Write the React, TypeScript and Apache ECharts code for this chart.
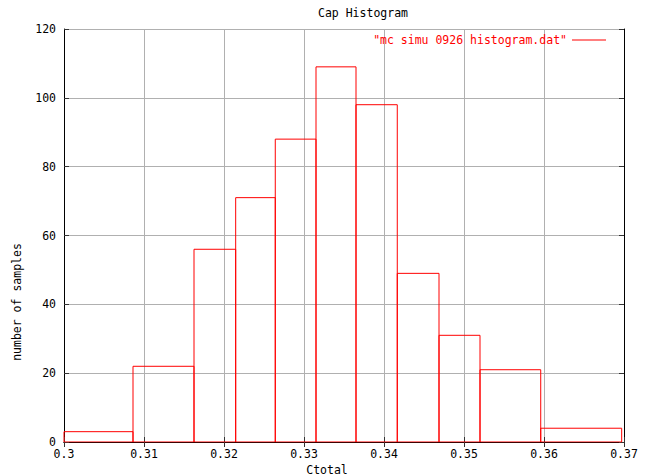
import React, { useEffect, useRef } from "react";
import * as echarts from "echarts";

const binEdges = [0.3, 0.308625, 0.31625, 0.32146, 0.32641, 0.3315, 0.3365, 0.34166, 0.346875, 0.352, 0.35959, 0.36971];
const counts = [3, 22, 56, 71, 88, 109, 98, 49, 31, 21, 4];
const seriesName = '"mc simu 0926 histogram.dat"';
const chartTitle = "Cap Histogram";
const xLabel = "Ctotal";
const yLabel = "number of samples";
const xMin = 0.3, xMax = 0.37, xStep = 0.01;
const yMin = 0, yMax = 120, yStep = 20;

const FONT = "DejaVu Sans Mono";
const RED = "#ff0000";

export default function App() {
  const ref = useRef<HTMLDivElement>(null);
  useEffect(() => {
    if (!ref.current) return;
    const chart = echarts.init(ref.current, undefined, { renderer: "svg" });
    // outline path through every box: up, across, down, for each bin, then back along the base
    const outline: number[][] = [];
    counts.forEach((c, i) => {
      outline.push([binEdges[i], 0]);
      outline.push([binEdges[i], c]);
      outline.push([binEdges[i + 1], c]);
      outline.push([binEdges[i + 1], 0]);
    });
    outline.push([binEdges[0], 0]);
    const axisCommon = {
      type: "value" as const,
      axisLine: { show: true, lineStyle: { color: "#000", width: 1 } },
      axisTick: { show: true, inside: true, length: 5, lineStyle: { color: "#333" } },
    };
    chart.setOption({
      animation: false,
      backgroundColor: "#fff",
      title: {
        text: chartTitle,
        left: 313,
        top: 2,
        textStyle: { fontFamily: FONT, fontSize: 11.5, fontWeight: "normal", color: "#000" },
      },
      legend: {
        data: [{ name: seriesName, icon: "rect", itemStyle: { color: RED } }],
        right: 40,
        top: 29,
        align: "right",
        itemWidth: 34,
        itemHeight: 1,
        textStyle: { fontFamily: FONT, fontSize: 11.5, color: RED },
      },
      grid: { left: 64, right: 27, top: 29, bottom: 34 },
      xAxis: [
        {
          ...axisCommon,
          min: xMin,
          max: xMax,
          interval: xStep,
          position: "bottom",
          axisLabel: {
            margin: 6,
            fontFamily: FONT,
            fontSize: 11.5,
            color: "#000",
            formatter: (v: number) => String(parseFloat(v.toFixed(2))),
          },
          splitLine: { show: true, lineStyle: { color: "#b0b0b0", width: 1 } },
        },
        {
          ...axisCommon,
          min: xMin,
          max: xMax,
          interval: xStep,
          position: "top",
          axisLabel: { show: false },
          splitLine: { show: false },
        },
      ],
      yAxis: [
        {
          ...axisCommon,
          min: yMin,
          max: yMax,
          interval: yStep,
          position: "left",
          axisLabel: { margin: 8, fontFamily: FONT, fontSize: 11.5, color: "#000" },
          splitLine: { show: true, lineStyle: { color: "#b0b0b0", width: 1 } },
        },
        {
          ...axisCommon,
          min: yMin,
          max: yMax,
          interval: yStep,
          position: "right",
          axisLabel: { show: false },
          splitLine: { show: false },
        },
      ],
      graphic: [
        {
          type: "text",
          x: 327,
          y: 470,
          style: {
            text: xLabel,
            fontFamily: FONT,
            fontSize: 11.5,
            fill: "#000",
            align: "center",
            verticalAlign: "middle",
          },
        },
        {
          type: "text",
          x: 17,
          y: 302,
          rotation: Math.PI / 2,
          style: {
            text: yLabel,
            fontFamily: FONT,
            fontSize: 11.5,
            fill: "#000",
            align: "center",
            verticalAlign: "middle",
          },
        },
      ],
      series: [
        {
          type: "line",
          name: seriesName,
          xAxisIndex: 0,
          yAxisIndex: 0,
          data: outline,
          showSymbol: false,
          symbol: "none",
          itemStyle: { color: RED },
          lineStyle: { color: RED, width: 1 },
          emphasis: { disabled: true },
          z: 10,
        },
      ],
    });
    return () => chart.dispose();
  }, []);
  return (
    <div
      ref={ref}
      style={{ position: "fixed", left: 0, top: 0, width: 651, height: 476 }}
    />
  );
}
